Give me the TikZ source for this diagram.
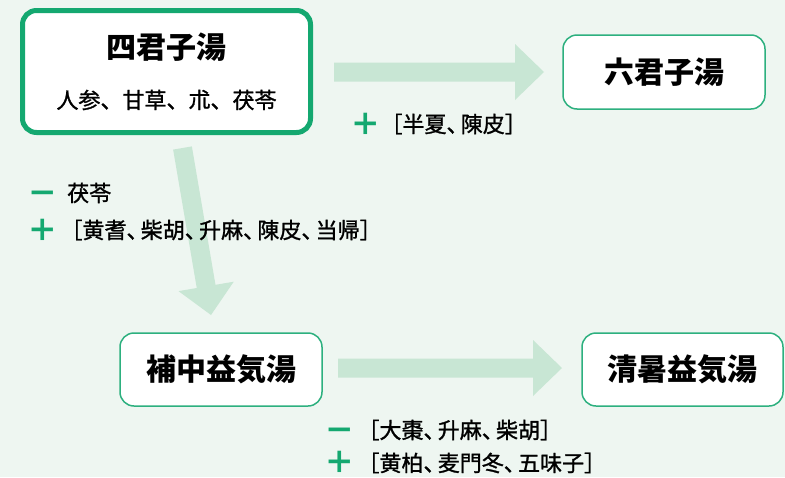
\documentclass[tikz,border=0pt]{standalone}
\usepackage{fontspec}
\newfontfamily\jp{Noto Sans CJK JP}
\newfontfamily\jpi{Noto Sans CJK JP}[FakeBold=1.2]
\usetikzlibrary{calc}
\definecolor{bg}{HTML}{EEF6F1}
\definecolor{boxgreen}{HTML}{14A870}
\definecolor{thingreen}{HTML}{2DB07F}
\definecolor{arrowc}{HTML}{C8E6D4}
\definecolor{signc}{HTML}{14A870}
\newcommand{\kk}{\makebox[0.65em][l]{、}}
\newcommand{\lbk}{\makebox[0.65em][r]{［}}
\newcommand{\rbk}{\makebox[0.65em][l]{］}}
\tikzset{
  titlebox/.style={draw=thingreen, line width=1.5pt, fill=white, rounded corners=14pt, inner sep=0pt},
  mainbox/.style={draw=boxgreen, line width=5pt, fill=white, rounded corners=14pt, inner sep=0pt},
  title/.style={inner sep=0pt, font=\jp\bfseries\fontsize{30}{34}\selectfont},
  ingr/.style={inner sep=0pt, anchor=west, font=\jpi\fontsize{22}{26}\selectfont},
  ingrc/.style={inner sep=0pt, font=\jpi\fontsize{22}{26}\selectfont},
  sign/.style={inner sep=0pt, text=signc, text height=23pt, text depth=0pt, font=\jp\bfseries\fontsize{30.5}{34}\selectfont},
}
\newcommand{\fatarrow}[2]{%
  \coordinate (hb) at ($(#2)!29pt!(#1)$);
  \fill[arrowc] ($(#1)!9.5pt!90:(#2)$) -- ($(hb)!9.5pt!-90:(#1)$) -- ($(hb)!28pt!-90:(#1)$)
    -- (#2) -- ($(hb)!28pt!90:(#1)$) -- ($(hb)!9.5pt!90:(#1)$) -- ($(#1)!9.5pt!-90:(#2)$) -- cycle;
}
\begin{document}
\begin{tikzpicture}[x=1pt,y=-1pt]
\fill[bg] (0,0) rectangle (785,477);
\useasboundingbox (0,0) rectangle (785,477);
% arrows
\coordinate (a1s) at (334,72);
\coordinate (a1t) at (544,72);
\coordinate (a2s) at (182.5,148);
\coordinate (a2t) at (211,315);
\coordinate (a3s) at (338,368);
\coordinate (a3t) at (562,368);
\fatarrow{a1s}{a1t}
\fatarrow{a2s}{a2t}
\fatarrow{a3s}{a3t}
% boxes
\node[mainbox, minimum width=288pt, minimum height=122pt] (b1) at (166.5,71.5) {};
\node[title] (t1) at (166.5,47) {四君子湯};
\node[ingrc] (i1) at (166.5,100) {人参、甘草、朮、茯苓};
\node[titlebox, minimum width=202pt, minimum height=74pt, title] (b2) at (664,72) {六君子湯};
\node[titlebox, minimum width=202pt, minimum height=73pt, title] (b3) at (221,369.5) {補中益気湯};
\node[titlebox, minimum width=201pt, minimum height=73pt, title] (b4) at (682.5,369.5) {清暑益気湯};
% labels
\node[sign] (s1) at (366,124) {＋};
\node[ingr] (l1) at (388,124) {\lbk 半夏\kk 陳皮\rbk};
\node[sign] (s2) at (42.5,193) {－};
\node[ingr] (l2) at (67,193) {茯苓};
\node[sign] (s3) at (42.5,230) {＋};
\node[ingr] (l3) at (68,230) {\lbk 黄耆\kk 柴胡\kk 升麻\kk 陳皮\kk 当帰\rbk};
\node[sign] (s4) at (340,430) {－};
\node[ingr] (l4) at (365,430) {\lbk 大棗\kk 升麻\kk 柴胡\rbk};
\node[sign] (s5) at (340,462) {＋};
\node[ingr] (l5) at (365,463) {\lbk 黄柏\kk 麦門冬\kk 五味子\rbk};
\end{tikzpicture}
\end{document}
